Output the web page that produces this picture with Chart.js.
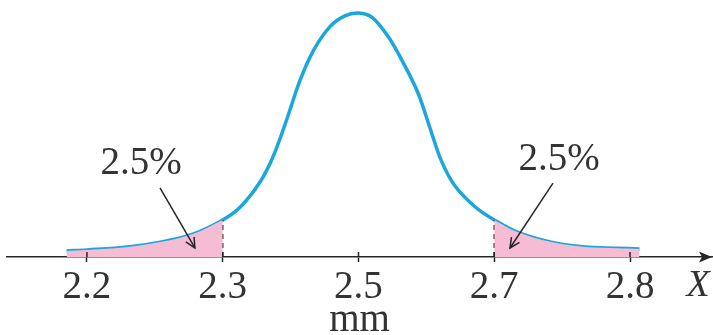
<!DOCTYPE html>
<html>
<head>
<meta charset="utf-8">
<script src="https://cdn.jsdelivr.net/npm/chart.js@4"></script>
<style>
  html, body { margin: 0; padding: 0; background: #fff; }
  canvas { display: block; }
</style>
</head>
<body>
<canvas id="normalChart" width="713" height="335"></canvas>
<script>
// tick positions on the (schematic) axis and their labels
const tickPos = [0, 1, 2, 3, 4];
const tickLabels = ["2.2", "2.3", "2.5", "2.7", "2.8"];

// bell curve (x in tick units, y relative to peak)
const curveX = [-0.15, 0.0, 0.3, 0.54, 0.78, 1.0, 1.13, 1.27, 1.37, 1.47, 1.57, 1.67, 1.79, 1.9, 2.0,
  2.1, 2.22, 2.34, 2.44, 2.52, 2.61, 2.71, 2.86, 3.0, 3.17, 3.42, 3.67, 3.91, 4.07];
const curveY = [0.025, 0.029, 0.041, 0.061, 0.094, 0.152, 0.205, 0.303, 0.41, 0.561, 0.725, 0.848, 0.944, 0.988, 1.0,
  0.982, 0.902, 0.785, 0.67, 0.54, 0.395, 0.292, 0.205, 0.152, 0.102, 0.061, 0.041, 0.036, 0.033];

// shaded tails
const cutLeft = 1; // 2.3
const cutRight = 3; // 2.7
const tailText = ["2.5%", "2.5%"];

const curve = curveX.map((x, i) => ({ x: x, y: curveY[i] }));
const leftTail = curve.filter((p) => p.x <= cutLeft);
const rightTail = curve.filter((p) => p.x >= cutRight);
const hLeft = curveY[curveX.indexOf(cutLeft)];
const hRight = curveY[curveX.indexOf(cutRight)];

const ink = "#262626";
const serif = "'Liberation Serif', 'DejaVu Serif', serif";

// arrows, labels and the axis arrow head
const extras = {
  id: "extras",
  afterDatasetsDraw(chart) {
    const ctx = chart.ctx;
    const xs = chart.scales.x;
    const ys = chart.scales.y;
    const px = (v) => xs.getPixelForValue(v);
    const py = (v) => ys.getPixelForValue(v);
    const axisY = py(0);

    ctx.save();
    ctx.strokeStyle = ink;
    ctx.fillStyle = ink;
    ctx.lineWidth = 1.5;

    // tick marks poking above the axis
    tickPos.forEach((t) => {
      ctx.beginPath();
      ctx.moveTo(px(t), axisY);
      ctx.lineTo(px(t), axisY - 5);
      ctx.stroke();
    });

    // axis arrow head
    const right = chart.chartArea.right;
    ctx.beginPath();
    ctx.moveTo(right, axisY);
    ctx.lineTo(right - 13, axisY - 5.5);
    ctx.lineTo(right - 10, axisY);
    ctx.lineTo(right - 13, axisY + 5.5);
    ctx.closePath();
    ctx.fill();

    // pointer arrows
    const arrows = [
      [0.538, 0.283, 0.795, 0.037],
      [3.433, 0.303, 3.116, 0.037],
    ];
    arrows.forEach((a) => {
      const x1 = px(a[0]), y1 = py(a[1]), x2 = px(a[2]), y2 = py(a[3]);
      const ang = Math.atan2(y2 - y1, x2 - x1);
      ctx.beginPath();
      ctx.moveTo(x1, y1);
      ctx.lineTo(x2, y2);
      ctx.stroke();
      ctx.beginPath();
      ctx.moveTo(x2 - 11 * Math.cos(ang - 0.45), y2 - 11 * Math.sin(ang - 0.45));
      ctx.lineTo(x2, y2);
      ctx.lineTo(x2 - 11 * Math.cos(ang + 0.45), y2 - 11 * Math.sin(ang + 0.45));
      ctx.stroke();
    });

    // labels
    ctx.fillStyle = "#333";
    ctx.textAlign = "center";
    ctx.textBaseline = "middle";
    ctx.font = "39px " + serif;
    ctx.fillText(tailText[0], px(0.398), py(0.381));
    ctx.fillText(tailText[1], px(3.477), py(0.398));
    ctx.font = "italic 38px " + serif;
    ctx.fillText("X", 698, 286);
    ctx.restore();
  },
};

const smooth = { showLine: true, pointRadius: 0, tension: 0.35 };

new Chart(document.getElementById("normalChart"), {
  type: "scatter",
  data: {
    datasets: [
      {
        ...smooth,
        data: leftTail,
        borderWidth: 0,
        fill: "origin",
        backgroundColor: "#f6bcd4",
      },
      {
        ...smooth,
        data: rightTail,
        borderWidth: 0,
        fill: "origin",
        backgroundColor: "#f6bcd4",
      },
      {
        data: [{ x: cutLeft, y: 0 }, { x: cutLeft, y: hLeft }],
        showLine: true,
        borderColor: ink,
        borderWidth: 1.5,
        borderDash: [5, 4],
        pointRadius: 0,
      },
      {
        data: [{ x: cutRight, y: 0 }, { x: cutRight, y: hRight }],
        showLine: true,
        borderColor: ink,
        borderWidth: 1.5,
        borderDash: [5, 4],
        pointRadius: 0,
      },
      {
        ...smooth,
        data: curve,
        borderColor: "#1ba6dc",
        borderWidth: 3.5,
      },
    ],
  },
  options: {
    responsive: false,
    animation: false,
    layout: { padding: { left: 7, right: 1, top: 0, bottom: 0 } },
    plugins: {
      legend: { display: false },
      tooltip: { enabled: false },
    },
    scales: {
      x: {
        type: "linear",
        min: -0.589,
        max: 4.604,
        afterBuildTicks: (scale) => {
          scale.ticks = tickPos.map((v) => ({ value: v }));
        },
        afterFit: (scale) => {
          scale.height = 78;
        },
        border: { display: true, color: ink, width: 1.5 },
        grid: {
          display: true,
          drawOnChartArea: false,
          drawTicks: true,
          tickLength: 5,
          tickColor: ink,
          tickWidth: 1.5,
        },
        ticks: {
          autoSkip: false,
          maxRotation: 0,
          padding: 2,
          color: "#333",
          font: { family: serif, size: 39 },
          callback: (v) => tickLabels[tickPos.indexOf(v)],
        },
        title: {
          display: true,
          text: "mm",
          color: "#333",
          font: { family: serif, size: 39, lineHeight: 0.75 },
          padding: { top: 0, bottom: 0 },
        },
      },
      y: {
        display: false,
        min: 0,
        max: 1.053,
      },
    },
  },
  plugins: [extras],
});
</script>
</body>
</html>
